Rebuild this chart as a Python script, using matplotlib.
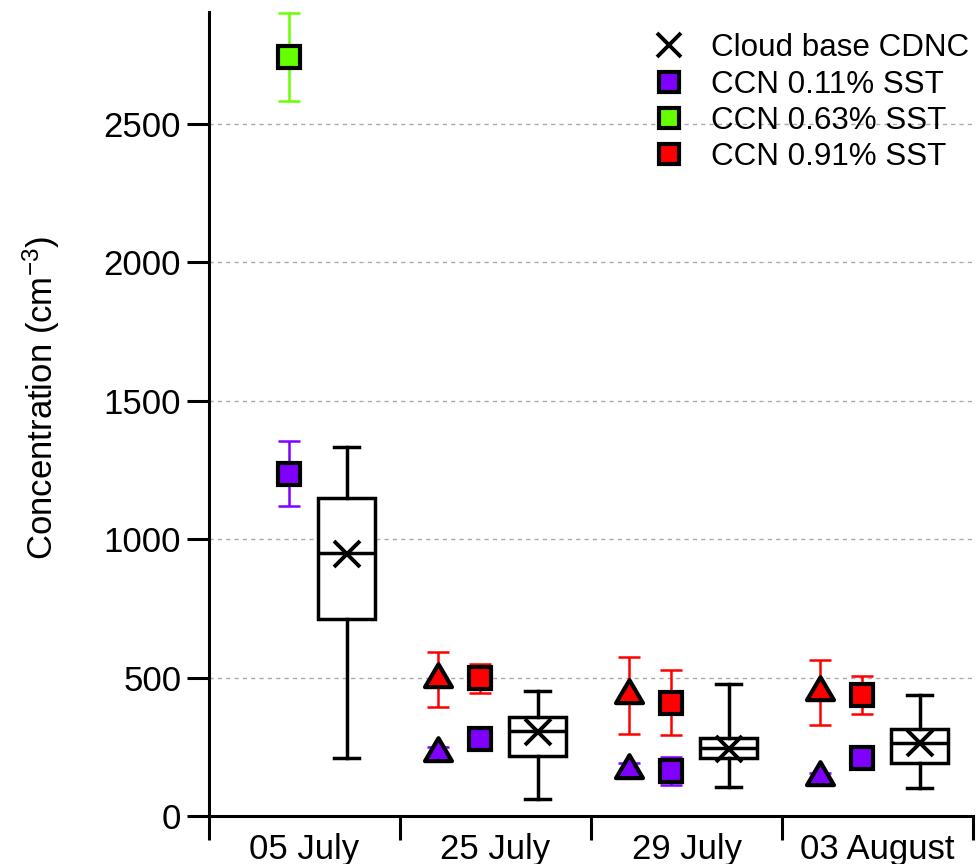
import numpy as np
import matplotlib
matplotlib.use("Agg")
import matplotlib.pyplot as plt
from matplotlib.lines import Line2D
from matplotlib.path import Path

plt.rcParams["font.family"] = ["Liberation Sans", "DejaVu Sans"]
plt.rcParams["mathtext.default"] = "regular"

# --- data ---
dates = ["05 July", "25 July", "29 July", "03 August"]

# squares (CCN, per supersaturation)
ccn011_sq = [1237, 278, 162, 210]
ccn011_sq_err = [118, 25, 50, 20]
ccn063_sq = [2742, np.nan, np.nan, np.nan]
ccn063_sq_err = [160, np.nan, np.nan, np.nan]
ccn091_sq = [np.nan, 497, 410, 437]
ccn091_sq_err = [np.nan, 52, 118, 70]

# triangles
ccn011_tri = [np.nan, 227, 166, 142]
ccn011_tri_err = [np.nan, 23, 26, 15]
ccn091_tri = [np.nan, 494, 436, 447]
ccn091_tri_err = [np.nan, 100, 140, 117]

# cloud base CDNC box stats
cdnc_whislo = [210, 60, 105, 100]
cdnc_q1 = [713, 215, 211, 193]
cdnc_med = [949, 307, 247, 262]
cdnc_q3 = [1150, 356, 283, 314]
cdnc_whishi = [1335, 452, 476, 437]
cdnc_mean = [948, 304, 242, 262]

PURPLE = "#7F00FF"
GREEN = "#66FF00"
RED = "#FF0000"

# triangle marker centred on its centroid
tri_marker = Path([(0, 0.567), (-0.5, -0.283), (0.5, -0.283), (0, 0.567)],
                  [Path.MOVETO, Path.LINETO, Path.LINETO, Path.CLOSEPOLY])

x = np.arange(len(dates))
off_tri, off_sq, off_box = -0.30, -0.08, 0.22

fig = plt.figure(figsize=(9.76, 8.64), dpi=100)
ax = fig.add_axes([209 / 976, 48 / 864, (973 - 209) / 976, (816 - 12) / 864])

ax.yaxis.grid(True, linestyle=(0, (3, 3)), color="#aaaaaa", linewidth=1)
ax.set_axisbelow(True)


def draw_err(xs, ys, err, color, marker, ms):
    ax.errorbar(xs, ys, yerr=err, fmt="none", ecolor=color, elinewidth=1.8,
                capsize=8, capthick=1.8, zorder=3)
    ax.plot(xs, ys, linestyle="none", marker=marker, markersize=ms,
            markerfacecolor=color, markeredgecolor="black",
            markeredgewidth=3, zorder=4)


draw_err(x + off_tri, ccn011_tri, ccn011_tri_err, PURPLE, tri_marker, 22)
draw_err(x + off_tri, ccn091_tri, ccn091_tri_err, RED, tri_marker, 22)
draw_err(x + off_sq, ccn011_sq, ccn011_sq_err, PURPLE, "s", 16)
draw_err(x + off_sq, ccn063_sq, ccn063_sq_err, GREEN, "s", 16)
draw_err(x + off_sq, ccn091_sq, ccn091_sq_err, RED, "s", 16)

stats = []
for i in range(len(dates)):
    stats.append(dict(whislo=cdnc_whislo[i], q1=cdnc_q1[i], med=cdnc_med[i],
                      q3=cdnc_q3[i], whishi=cdnc_whishi[i], mean=cdnc_mean[i],
                      fliers=[]))

lw = 2.5
ax.bxp(stats, positions=x + off_box, widths=0.30, capwidths=0.13,
       showmeans=True, manage_ticks=False, patch_artist=True,
       boxprops=dict(facecolor="white", edgecolor="black", linewidth=lw),
       medianprops=dict(color="black", linewidth=lw),
       whiskerprops=dict(color="black", linewidth=lw),
       capprops=dict(color="black", linewidth=lw),
       meanprops=dict(marker="x", markersize=19, markeredgecolor="black",
                      markeredgewidth=2.8))

ax.set_xlim(-0.5, 3.5)
ax.set_ylim(0, 2905)
ax.set_yticks([0, 500, 1000, 1500, 2000, 2500])
ax.set_xticks(x)
ax.set_xticklabels(dates)
ax.set_xticks([-0.5, 0.5, 1.5, 2.5, 3.5], minor=True)

for s in ["top", "right"]:
    ax.spines[s].set_visible(False)
for s in ["left", "bottom"]:
    ax.spines[s].set_linewidth(2.2)

ax.tick_params(axis="y", length=16, width=2.2, pad=4, labelsize=25)
ax.tick_params(axis="x", which="major", length=0, pad=12, labelsize=25)
ax.tick_params(axis="x", which="minor", length=17, width=2.2)

ax.set_ylabel("Concentration (cm$^{-3}$)", fontsize=25)
ax.yaxis.set_label_coords(-0.193, 0.52)

handles = [
    Line2D([], [], linestyle="none", marker="x", markersize=17,
           markeredgecolor="black", markeredgewidth=2.8),
    Line2D([], [], linestyle="none", marker="s", markersize=15,
           markerfacecolor=PURPLE, markeredgecolor="black", markeredgewidth=3),
    Line2D([], [], linestyle="none", marker="s", markersize=15,
           markerfacecolor=GREEN, markeredgecolor="black", markeredgewidth=3),
    Line2D([], [], linestyle="none", marker="s", markersize=15,
           markerfacecolor=RED, markeredgecolor="black", markeredgewidth=3),
]
labels = ["Cloud base CDNC", "CCN 0.11% SST", "CCN 0.63% SST", "CCN 0.91% SST"]
ax.legend(handles, labels, loc="upper right", bbox_to_anchor=(1.02, 0.997),
          frameon=False, fontsize=22.6, handletextpad=0.55, labelspacing=0.2,
          borderaxespad=0.2, handlelength=1.6)

fig.savefig("out.png", dpi=100)
